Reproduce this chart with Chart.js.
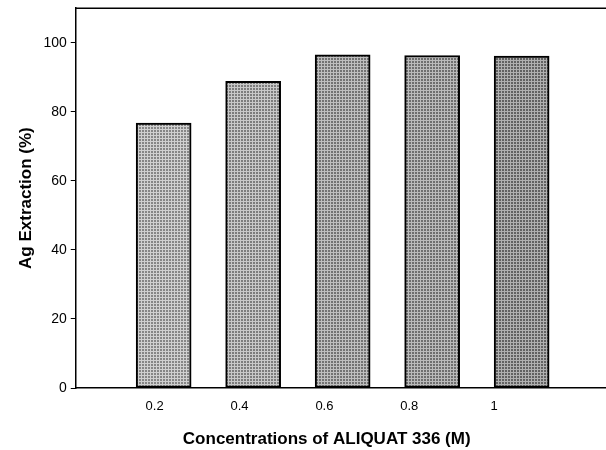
<!DOCTYPE html>
<html lang="en">
  <head>
    <meta charset="UTF-8" />
    <title>Ag Extraction vs ALIQUAT 336</title>
    <script src="https://cdn.jsdelivr.net/npm/chart.js"></script>
    <style>
      body {
        margin: 0;
        background-color: #ffffff;
      }
      .graph {
        width: 606px;
        height: 450px;
      }
    </style>
  </head>
  <body>
    <div class="graph">
      <canvas id="agChart" width="606" height="450"></canvas>
    </div>
    <script>
      // values
      const concentrations = [0.2, 0.4, 0.6, 0.8, 1];
      const xTickLabels = ["0.2", "0.4", "0.6", "0.8", "1"];
      const agExtraction = [76.7, 88.8, 96.5, 96.3, 96.1];
      const yTicks = [0, 20, 40, 60, 80, 100];
      const barGreys = ["#868686", "#7c7c7c", "#727272", "#6e6e6e", "#626262"];
      const barLights = ["#d0d0d0", "#c8c8c8", "#bebebe", "#bababa", "#b0b0b0"];

      // small stippled tile, like the old print texture
      function makePattern(base, i) {
        const c = document.createElement("canvas");
        c.width = 3;
        c.height = 3;
        const g = c.getContext("2d");
        g.fillStyle = base;
        g.fillRect(0, 0, 3, 3);
        g.fillStyle = barLights[i];
        g.fillRect(0, 0, 3, 1);
        g.fillRect(0, 0, 1, 3);
        return g.createPattern(c, "repeat");
      }

      const topBorder = {
        id: "topBorder",
        afterDraw(chart) {
          const { ctx, chartArea } = chart;
          ctx.save();
          ctx.strokeStyle = "#000";
          ctx.lineWidth = 1.5;
          ctx.beginPath();
          ctx.moveTo(chartArea.left, chartArea.top);
          ctx.lineTo(chart.width, chartArea.top);
          ctx.stroke();
          ctx.restore();
        },
      };

      const ctx = document.getElementById("agChart").getContext("2d");
      new Chart(ctx, {
        type: "bar",
        data: {
          datasets: [
            {
              label: "Ag Extraction",
              data: concentrations.map((c, i) => ({ x: c, y: agExtraction[i] })),
              xAxisID: "xb",
              backgroundColor: barGreys.map(makePattern),
              borderColor: "#000",
              borderWidth: 2,
              borderSkipped: false,
              barThickness: 55,
            },
          ],
        },
        options: {
          responsive: false,
          animation: false,
          layout: {
            padding: { top: 6, right: 0, bottom: 0, left: 16 },
          },
          plugins: {
            legend: { display: false },
            tooltip: { enabled: false },
          },
          scales: {
            xb: {
              type: "linear",
              display: false,
              position: "bottom",
              offset: false,
              min: 0.0036,
              max: 1.1885,
            },
            x: {
              type: "linear",
              position: "bottom",
              offset: false,
              min: 0.0141,
              max: 1.2635,
              afterBuildTicks: (s) => {
                s.ticks = concentrations.map((v) => ({ value: v }));
              },
              grid: { display: false, drawTicks: false, offset: false },
              border: { display: true, color: "#000", width: 1.5 },
              ticks: {
                padding: 11,
                color: "#000",
                font: { family: "Liberation Sans", size: 13 },
                callback: (v, i) => xTickLabels[i],
              },
              title: {
                display: true,
                // trailing spaces nudge the centred title left, as in the figure
                text: "Concentrations of ALIQUAT 336 (M)\u00a0\u00a0\u00a0\u00a0\u00a0\u00a0",
                color: "#000",
                font: { family: "Liberation Sans", size: 17, weight: "bold" },
                padding: { top: 4, bottom: 0 },
              },
            },
            y: {
              min: 0,
              max: 110,
              afterBuildTicks: (s) => {
                s.ticks = yTicks.map((v) => ({ value: v }));
              },
              grid: {
                drawOnChartArea: false,
                drawTicks: true,
                tickLength: 5,
                color: "#000",
                lineWidth: 1,
              },
              border: { display: true, color: "#000", width: 1.5 },
              ticks: {
                padding: 4,
                color: "#000",
                font: { family: "Liberation Sans", size: 14, lineHeight: 0.6 },
              },
              title: {
                display: true,
                text: "Ag Extraction (%)",
                color: "#000",
                font: { family: "Liberation Sans", size: 17, weight: "bold" },
                padding: { top: 0, bottom: 3 },
              },
            },
          },
        },
        plugins: [topBorder],
      });
    </script>
  </body>
</html>
